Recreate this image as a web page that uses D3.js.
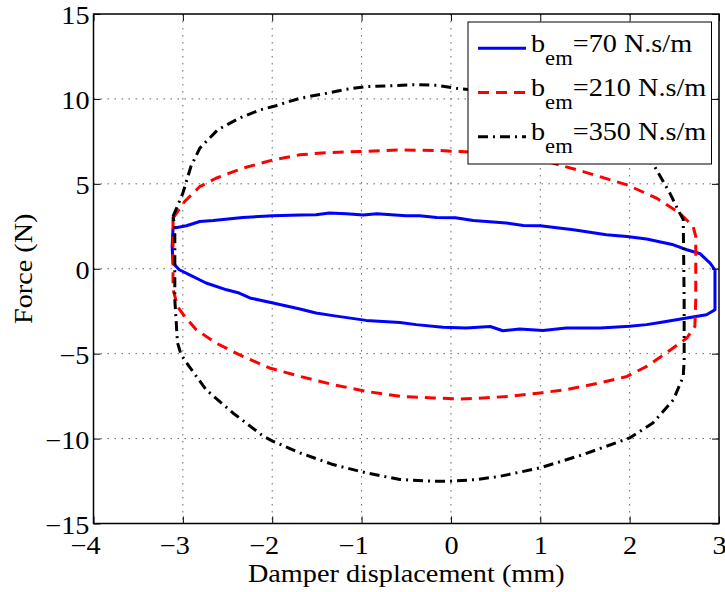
<!DOCTYPE html>
<html>
<head>
<meta charset="utf-8">
<script src="https://cdn.jsdelivr.net/npm/d3@7"></script>
<style>
  html, body { margin: 0; padding: 0; background: #fff; }
  svg { display: block; font-family: "Liberation Serif", "Times New Roman", serif; }
</style>
</head>
<body>
<svg id="chart" width="725" height="592"></svg>
<script>
// Force–displacement loops for three electromagnetic damping coefficients
const xTicks = [-4, -3, -2, -1, 0, 1, 2, 3];
const yTicks = [-15, -10, -5, 0, 5, 10, 15];

const seriesLabels = ["70", "210", "350"];

// b_em = 70 N.s/m  (displacement mm, force N), traced around the loop
const loop70 = [
  [-3.11, 2.39], [-2.96, 2.53], [-2.81, 2.78], [-2.66, 2.84], [-2.33, 3.02],
  [-1.99, 3.12], [-1.69, 3.16], [-1.51, 3.18], [-1.36, 3.28], [-1.17, 3.24],
  [-0.98, 3.16], [-0.83, 3.24], [-0.50, 3.12], [-0.35, 3.12], [-0.16, 3.02],
  [0.05, 3.00], [0.25, 2.84], [0.62, 2.69], [0.81, 2.55], [1.00, 2.53],
  [1.37, 2.29], [1.74, 2.00], [1.97, 1.90], [2.19, 1.75], [2.49, 1.41],
  [2.64, 1.12], [2.79, 0.88], [2.90, 0.33], [2.955, -0.06], [2.955, -2.41],
  [2.86, -2.71], [2.64, -2.90], [2.34, -3.16], [2.19, -3.29], [2.00, -3.39],
  [1.67, -3.49], [1.29, -3.49], [1.03, -3.63], [0.77, -3.55], [0.58, -3.65],
  [0.44, -3.40], [0.17, -3.49], [-0.09, -3.45], [-0.39, -3.29], [-0.57, -3.16],
  [-0.95, -3.04], [-1.32, -2.76], [-1.51, -2.61], [-1.69, -2.37], [-1.99, -2.02],
  [-2.25, -1.72], [-2.37, -1.43], [-2.51, -1.24], [-2.74, -0.84], [-2.93, -0.35],
  [-3.04, -0.06], [-3.11, 0.33], [-3.12, 1.30], [-3.11, 2.39]
];

// b_em = 210 N.s/m
const loop210 = [
  [-3.11, 2.98], [-2.98, 3.96], [-2.81, 4.84], [-2.63, 5.33], [-2.33, 5.92],
  [-1.99, 6.41], [-1.69, 6.71], [-1.39, 6.84], [-1.02, 6.90], [-0.57, 7.00],
  [-0.13, 6.96], [0.10, 6.90], [0.50, 6.78], [0.85, 6.52], [1.14, 6.22],
  [1.48, 5.72], [1.97, 4.94], [2.30, 4.16], [2.56, 3.28], [2.71, 2.49],
  [2.74, 1.90], [2.74, -1.82], [2.73, -3.39], [2.64, -4.08], [2.41, -4.96],
  [2.19, -5.75], [1.97, -6.34], [1.67, -6.72], [1.29, -7.12], [1.00, -7.31],
  [0.66, -7.51], [0.36, -7.61], [0.10, -7.67], [-0.20, -7.61], [-0.57, -7.51],
  [-0.95, -7.22], [-1.32, -6.82], [-1.69, -6.34], [-2.03, -5.84], [-2.37, -5.06],
  [-2.63, -4.37], [-2.85, -3.59], [-2.98, -2.80], [-3.06, -2.22], [-3.11, -1.20],
  [-3.11, 2.98]
];

// b_em = 350 N.s/m
const loop350 = [
  [-3.11, 3.08], [-3.00, 4.45], [-2.91, 6.02], [-2.81, 7.10], [-2.61, 8.18],
  [-2.37, 8.86], [-2.14, 9.35], [-1.99, 9.55], [-1.69, 10.04], [-1.39, 10.33],
  [-1.17, 10.57], [-0.95, 10.72], [-0.65, 10.78], [-0.39, 10.84], [-0.16, 10.80],
  [0.06, 10.63], [0.40, 10.45], [0.90, 10.00], [1.40, 9.20], [1.90, 7.90],
  [2.28, 6.02], [2.45, 4.45], [2.56, 3.28], [2.60, 2.90], [2.61, -1.82],
  [2.61, -5.35], [2.60, -6.34], [2.49, -7.71], [2.26, -9.08], [2.00, -9.96],
  [1.48, -10.94], [1.00, -11.72], [0.55, -12.22], [0.29, -12.41], [-0.01, -12.51],
  [-0.20, -12.51], [-0.57, -12.41], [-0.95, -12.02], [-1.32, -11.53], [-1.69, -10.84],
  [-1.99, -10.16], [-2.10, -9.86], [-2.44, -8.49], [-2.74, -7.12], [-2.93, -5.75],
  [-3.02, -5.06], [-3.06, -4.35], [-3.09, -1.82], [-3.09, 2.50], [-3.11, 3.08]
];

const svg = d3.select("#chart");
const L = 93.5, R = 719, T = 14, B = 523.5;
const FS = 25;          // text size
const WIDEN = "scale(1.13,1)";   // slightly extended face

const x = d3.scaleLinear().domain([-4, 3]).range([L, R]);
const y = d3.scaleLinear().domain([-15, 15]).range([B, T]);

const fmt = d => (d < 0 ? "\u2212" + Math.abs(d) : String(d));

// dotted grid at interior ticks
const grid = svg.append("g");
grid.selectAll("line.vx").data(xTicks.slice(1, -1)).join("line")
  .attr("x1", d => x(d)).attr("x2", d => x(d)).attr("y1", T).attr("y2", B)
  .attr("stroke", "#666").attr("stroke-width", 1).attr("stroke-dasharray", "1.5,5.5");
grid.selectAll("line.hy").data(yTicks.slice(1, -1)).join("line")
  .attr("x1", L).attr("x2", R).attr("y1", d => y(d)).attr("y2", d => y(d))
  .attr("stroke", "#666").attr("stroke-width", 1).attr("stroke-dasharray", "1.5,5.5");

// loops
const line = d3.line().x(d => x(d[0])).y(d => y(d[1]));
const styles = [
  { data: loop70, color: "#0000ff", dash: null },
  { data: loop210, color: "#ff0000", dash: "11,7" },
  { data: loop350, color: "#000000", dash: "10,5,2,5" }
];
svg.append("g").selectAll("path").data(styles).join("path")
  .attr("d", d => line(d.data))
  .attr("fill", "none")
  .attr("stroke", d => d.color)
  .attr("stroke-width", 3)
  .attr("stroke-linejoin", "round")
  .attr("stroke-dasharray", d => d.dash);

// axes with inward ticks on all four sides
const tickLen = 7;
const axB = svg.append("g").attr("transform", `translate(0,${B})`)
  .call(d3.axisBottom(x).tickValues(xTicks).tickFormat(fmt).tickSizeInner(-tickLen).tickSizeOuter(0));
const axT = svg.append("g").attr("transform", `translate(0,${T})`)
  .call(d3.axisTop(x).tickValues(xTicks).tickFormat("").tickSizeInner(-tickLen).tickSizeOuter(0));
const axL = svg.append("g").attr("transform", `translate(${L},0)`)
  .call(d3.axisLeft(y).tickValues(yTicks).tickFormat(fmt).tickSizeInner(-tickLen).tickSizeOuter(0));
const axR = svg.append("g").attr("transform", `translate(${R},0)`)
  .call(d3.axisRight(y).tickValues(yTicks).tickFormat("").tickSizeInner(-tickLen).tickSizeOuter(0));

[axB, axT, axL, axR].forEach(a => {
  a.attr("font-family", null).attr("font-size", null);
  a.select(".domain").remove();
  a.selectAll(".tick line").attr("stroke", "#000").attr("stroke-width", 1);
  a.selectAll("text").attr("font-size", FS).attr("fill", "#000");
});
axB.selectAll(".tick text")
  .attr("x", null).attr("y", null).attr("dy", null)
  .attr("text-anchor", "middle")
  .attr("transform", d => `translate(${d < 0 ? -8.5 : 0},${554 - B}) ${WIDEN}`);
axL.selectAll(".tick text")
  .attr("x", null).attr("y", null).attr("dy", null)
  .attr("text-anchor", "end")
  .attr("transform", `translate(-4,9.8) ${WIDEN}`);

svg.append("rect").attr("x", L).attr("y", T).attr("width", R - L).attr("height", B - T)
  .attr("fill", "none").attr("stroke", "#000").attr("stroke-width", 1.5);

// axis titles
svg.append("text").attr("transform", `translate(${(L + R) / 2},582) ${WIDEN}`)
  .attr("text-anchor", "middle").attr("font-size", FS).text("Damper displacement (mm)");
svg.append("text").attr("transform", `translate(32,${(T + B) / 2}) rotate(-90) ${WIDEN}`)
  .attr("text-anchor", "middle").attr("font-size", FS).text("Force (N)");

// legend
const lg = svg.append("g");
lg.append("rect").attr("x", 468).attr("y", 22).attr("width", 243.5).attr("height", 142)
  .attr("fill", "#fff").attr("stroke", "#000").attr("stroke-width", 1);
const rowY = i => 48.3 + i * 44.2;
styles.forEach((s, i) => {
  lg.append("line").attr("x1", 478).attr("x2", 526).attr("y1", rowY(i)).attr("y2", rowY(i))
    .attr("stroke", s.color).attr("stroke-width", 3).attr("stroke-dasharray", s.dash);
  const t = lg.append("text")
    .attr("transform", `translate(531,${rowY(i) + 3.4}) ${WIDEN}`)
    .attr("font-size", FS);
  t.append("tspan").text("b");
  t.append("tspan").attr("dy", 13.3).attr("font-size", 20).text("em");
  t.append("tspan").attr("dy", -13.3).attr("font-size", FS).text("=" + seriesLabels[i] + " N.s/m");
});
</script>
</body>
</html>
